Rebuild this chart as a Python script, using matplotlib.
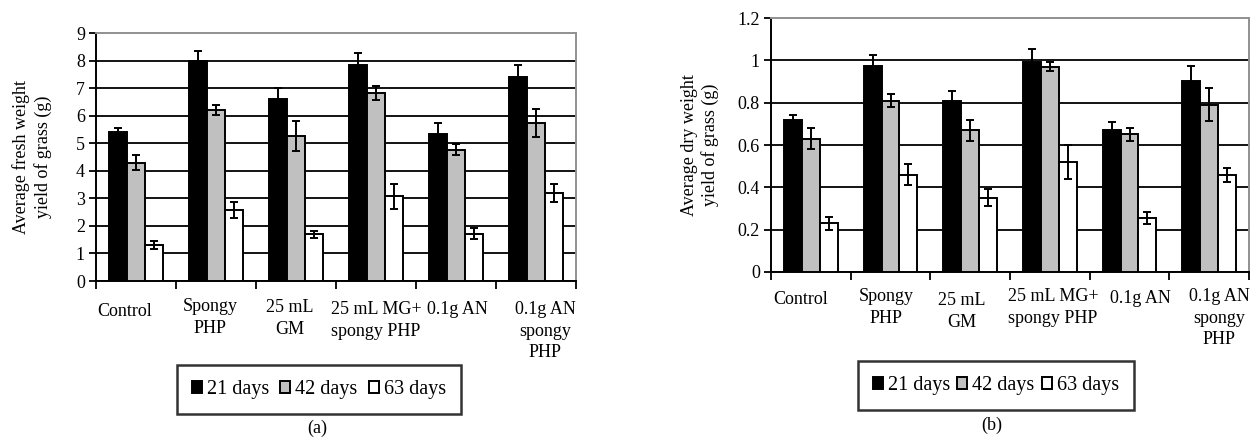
# ======================================================= #
# LIBRARIES
# ======================================================= #
import numpy as np
import matplotlib
matplotlib.use("Agg")
import matplotlib.pyplot as plt
from matplotlib.patches import Patch
from matplotlib.transforms import offset_copy


# ======================================================= #
# DATA
# ======================================================= #
categories = ["Control", "Spongy\nPHP", "25 mL\nGM", "25 mL MG+\nspongy PHP", "0.1g AN", "0.1g AN\nspongy\nPHP"]
series_names = ["21 days", "42 days", "63 days"]

fresh_21 = [5.4, 8.0, 6.6, 7.85, 5.35, 7.4]
fresh_21_err = [0.17, 0.35, 0.4, 0.42, 0.39, 0.45]
fresh_42 = [4.3, 6.2, 5.26, 6.82, 4.77, 5.74]
fresh_42_err = [0.28, 0.17, 0.54, 0.25, 0.2, 0.5]
fresh_63 = [1.3, 2.57, 1.69, 3.08, 1.72, 3.2]
fresh_63_err = [0.15, 0.28, 0.13, 0.45, 0.2, 0.33]

dry_21 = [0.72, 0.975, 0.81, 0.99, 0.67, 0.9]
dry_21_err = [0.02, 0.05, 0.045, 0.065, 0.04, 0.075]
dry_42 = [0.63, 0.81, 0.67, 0.97, 0.65, 0.79]
dry_42_err = [0.05, 0.03, 0.05, 0.02, 0.03, 0.078]
dry_63 = [0.23, 0.46, 0.35, 0.52, 0.255, 0.46]
dry_63_err = [0.03, 0.05, 0.04, 0.08, 0.027, 0.033]

fresh_ticks = [0, 1, 2, 3, 4, 5, 6, 7, 8, 9]
dry_ticks = [0, 0.2, 0.4, 0.6, 0.8, 1, 1.2]
dry_tick_labels = ["0", "0.2", "0.4", "0.6", "0.8", "1", "1.2"]


# ======================================================= #
# STYLE
# ======================================================= #
plt.rcParams["font.family"] = ["Liberation Serif", "DejaVu Serif"]
plt.rcParams["font.size"] = 13
cols = ["#000000", "#c0c0c0", "#ffffff"]
W, H = 1252, 440
bar_w = 0.225


# ======================================================= #
# PANEL FUNCTION
# ======================================================= #
def draw_panel(fig, rect_px, values, errors, ticks, tick_labels, label_dy, label_dx):
    
    # axes in pixel rectangle (left, top, right, bottom)
    l, t, r, b = rect_px
    ax = fig.add_axes([l / W, 1 - b / H, (r - l) / W, (b - t) / H])
    x = np.arange(len(categories))
    
    # bars and error bars
    for i, (vals, errs) in enumerate(zip(values, errors)):
        xs = x + (i - 1) * bar_w
        ax.bar(xs, vals, width=bar_w, color=cols[i], edgecolor="black", linewidth=1.4, zorder=3)
        ax.errorbar(xs, vals, yerr=errs, fmt="none", ecolor="black", elinewidth=1.4, capsize=3, capthick=1.4, zorder=4)
    
    # axes limits and ticks
    ax.set_xlim(-0.5, len(categories) - 0.5)
    ax.set_ylim(ticks[0], ticks[-1])
    ax.set_yticks(ticks)
    ax.set_yticklabels(tick_labels)
    ax.set_xticks(np.arange(len(categories) + 1) - 0.5)
    ax.set_xticklabels([])
    ax.tick_params(axis="y", direction="out", length=5, width=1.3, pad=3)
    ax.tick_params(axis="x", direction="out", length=6, width=1.3)
    
    # grid and frame
    ax.yaxis.grid(True, color="black", linewidth=1.3, zorder=0)
    ax.get_ygridlines()[-1].set_visible(False)
    ax.set_axisbelow(True)
    ax.spines["left"].set_linewidth(1.4)
    ax.spines["bottom"].set_linewidth(1.4)
    ax.spines["top"].set_color("#909090")
    ax.spines["right"].set_color("#909090")
    ax.spines["top"].set_linewidth(1.4)
    ax.spines["right"].set_linewidth(1.4)
    
    # category labels (excel-like wrapped labels, shifted a bit)
    for xi, lab, dy, dx in zip(x, categories, label_dy, label_dx):
        tr = offset_copy(ax.get_xaxis_transform(), fig=fig, x=dx * 0.72, y=-(dy - 11) * 0.72, units="points")
        ax.text(xi, 0, lab, transform=tr, ha="center", va="top", linespacing=1.35, fontsize=13)
    
    return ax


# ======================================================= #
# FIGURE
# ======================================================= #
fig = plt.figure(figsize=(W / 100, H / 100), dpi=100)

# panel (a)
ax_a = draw_panel(fig, (96, 33, 576, 281),
                  [fresh_21, fresh_42, fresh_63],
                  [fresh_21_err, fresh_42_err, fresh_63_err],
                  fresh_ticks, [str(v) for v in fresh_ticks],
                  [33, 28, 29, 31, 31, 31], [-11, -6, -6, 0, 1, 9])
fig.text(32 / W, 1 - 157 / H, "Average fresh weight\nyield of grass (g)", rotation=90,
         ha="center", va="center", linespacing=1.25, fontsize=13)

# panel (b)
ax_b = draw_panel(fig, (771, 18, 1249, 272),
                  [dry_21, dry_42, dry_63],
                  [dry_21_err, dry_42_err, dry_63_err],
                  dry_ticks, dry_tick_labels,
                  [30, 27, 31, 27, 29, 27], [-10, -4, -8, 3, 11, 10])
fig.text(700 / W, 1 - 145 / H, "Average dry weight\nyield of grass (g)", rotation=90,
         ha="center", va="center", linespacing=1.25, fontsize=13)

# legends
handles = [Patch(facecolor=c, edgecolor="black", linewidth=1.4) for c in cols]
for (x0, y0, x1, y1) in [(167, 362, 471, 417), (848, 359, 1144, 412)]:
    leg = fig.legend(handles, series_names, ncol=3, loc="center", mode="expand",
                     bbox_to_anchor=(x0 / W, 1 - y1 / H, (x1 - x0) / W, (y1 - y0) / H),
                     bbox_transform=fig.transFigure, fancybox=False, frameon=True,
                     handlelength=0.5, handleheight=0.5, handletextpad=0.25,
                     borderpad=0.75, fontsize=14.5)
    leg.get_frame().set_edgecolor("black")
    leg.get_frame().set_linewidth(1.8)

# captions
fig.text(317 / W, 1 - 428 / H, "(a)", ha="center", va="center", fontsize=13)
fig.text(992 / W, 1 - 425 / H, "(b)", ha="center", va="center", fontsize=13)

# save figure
fig.savefig("out.png", dpi=100)
plt.close(fig)
